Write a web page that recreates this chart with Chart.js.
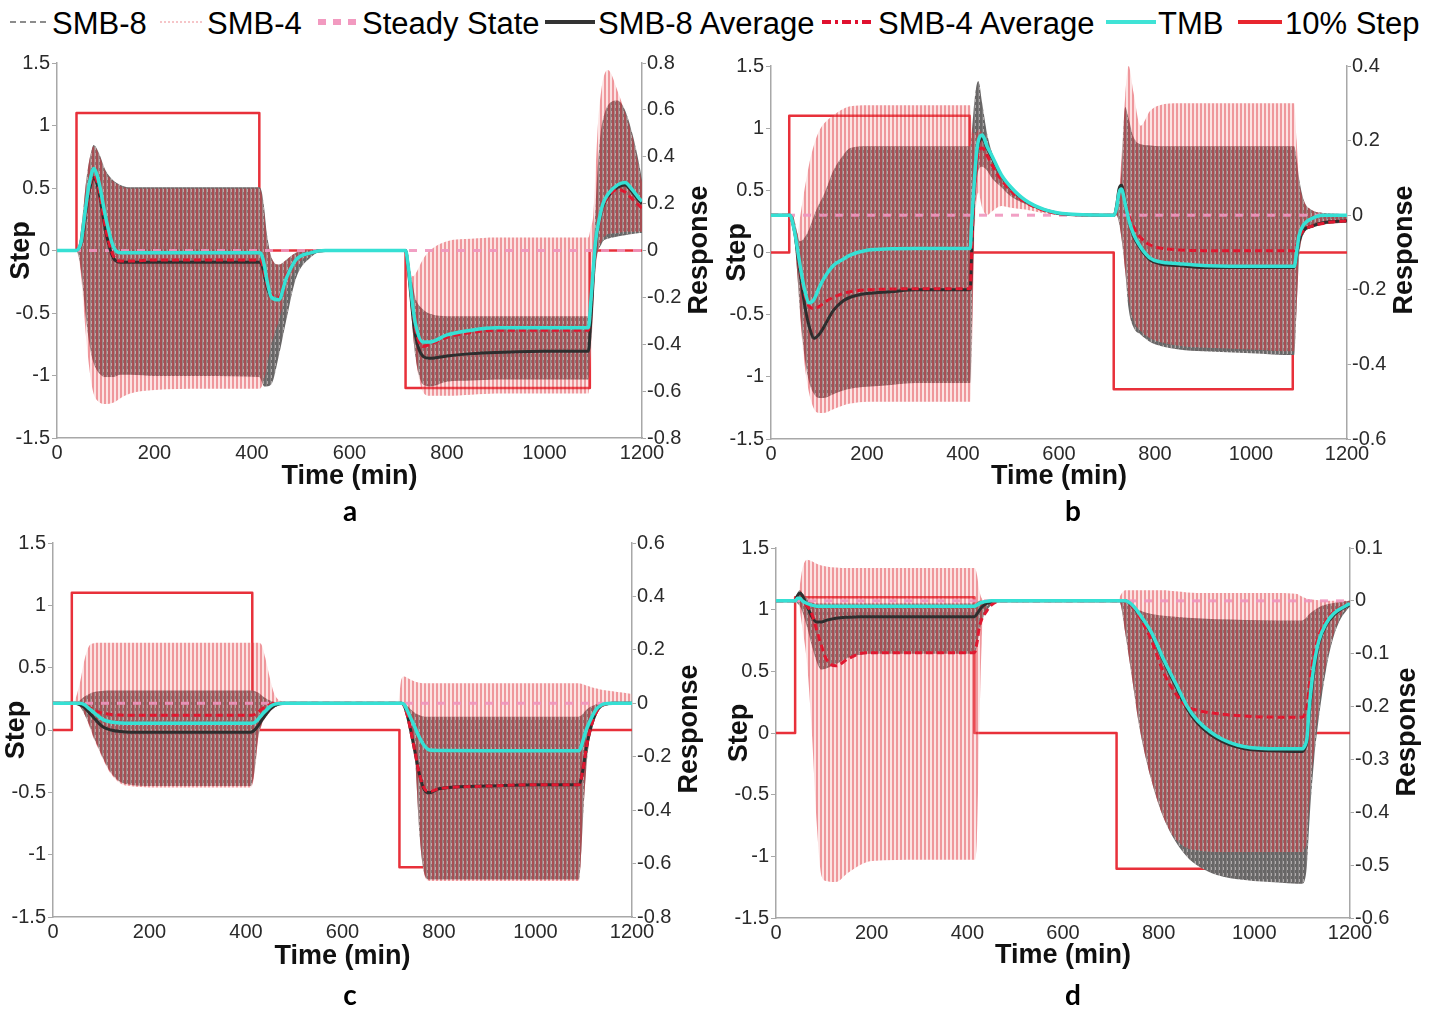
<!DOCTYPE html>
<html><head><meta charset="utf-8">
<script src="https://cdn.jsdelivr.net/npm/chart.js@4.4.0/dist/chart.umd.min.js"></script>
<style>
html,body{margin:0;padding:0;background:#fff;width:1440px;height:1009px;overflow:hidden;font-family:"Liberation Sans",Arial,sans-serif;}
canvas{position:absolute;}
.leg{position:absolute;top:7px;font-size:31px;line-height:33px;color:#000;white-space:nowrap;}
.ico{position:absolute;top:12px;}
.lab{position:absolute;font-family:Lato,"Open Sans",sans-serif;font-weight:700;font-size:28px;line-height:28px;transform:translateX(-50%);color:#000;}
</style></head><body>
<svg class="ico" style="left:10px" width="40" height="20"><line x1="0" y1="10" x2="40" y2="10" stroke="#8c8c8c" stroke-width="2" stroke-dasharray="6,4"/></svg>
<div class="leg" style="left:52px">SMB-8</div>
<svg class="ico" style="left:160px" width="42" height="20"><line x1="0" y1="10" x2="42" y2="10" stroke="#f3b3b6" stroke-width="1.5" stroke-dasharray="2,2"/></svg>
<div class="leg" style="left:207px">SMB-4</div>
<svg class="ico" style="left:316px" width="40" height="20"><line x1="2" y1="10" x2="40" y2="10" stroke="#f29ac0" stroke-width="6" stroke-dasharray="8,7"/></svg>
<div class="leg" style="left:362px">Steady State</div>
<svg class="ico" style="left:545px" width="50" height="20"><line x1="0" y1="10" x2="50" y2="10" stroke="#333" stroke-width="4"/></svg>
<div class="leg" style="left:598px">SMB-8 Average</div>
<svg class="ico" style="left:822px" width="52" height="20"><line x1="0" y1="10" x2="52" y2="10" stroke="#e0102e" stroke-width="4" stroke-dasharray="9,4,3,4"/></svg>
<div class="leg" style="left:878px">SMB-4 Average</div>
<svg class="ico" style="left:1106px" width="50" height="20"><line x1="0" y1="10" x2="50" y2="10" stroke="#3fe3d6" stroke-width="4"/></svg>
<div class="leg" style="left:1158px">TMB</div>
<svg class="ico" style="left:1238px" width="44" height="20"><line x1="0" y1="10" x2="44" y2="10" stroke="#e8262e" stroke-width="4"/></svg>
<div class="leg" style="left:1285px">10% Step</div>

<canvas id="ca" width="720" height="448" style="left:0px;top:45px"></canvas>
<canvas id="cb" width="720" height="448" style="left:720px;top:45px"></canvas>
<canvas id="cc" width="720" height="448" style="left:0px;top:525px"></canvas>
<canvas id="cd" width="720" height="447" style="left:720px;top:525px"></canvas>

<div class="lab" style="left:350px;top:496px">a</div>
<div class="lab" style="left:1073px;top:496px">b</div>
<div class="lab" style="left:350px;top:980px">c</div>
<div class="lab" style="left:1073px;top:980px">d</div>

<script>
// ---------- tick labels ----------
const xTicks = [0,200,400,600,800,1000,1200];
const leftTicks = [-1.5,-1,-0.5,0,0.5,1,1.5];
const rightTicksA = [-0.8,-0.6,-0.4,-0.2,0,0.2,0.4,0.6,0.8];
const rightTicksB = [-0.6,-0.4,-0.2,0,0.2,0.4];
const rightTicksC = [-0.8,-0.6,-0.4,-0.2,0,0.2,0.4,0.6];
const rightTicksD = [-0.6,-0.5,-0.4,-0.3,-0.2,-0.1,0,0.1];

// ---------- common ----------
const steadyT = [0,1200];
const steadyV = [0,0];
const stepV = [0,0,1.1,1.1,0,0,-1.1,-1.1,0,0];

// ---------- panel a ----------
const tA = [0,40,45,50,55,60,65,70,75,85,100,115,130,150,200,300,415,420,425,430,440,455,470,490,520,550,715,720,730,735,750,765,800,850,900,1000,1090,1095,1100,1105,1110,1115,1120,1130,1150,1165,1180,1195,1200];
const tmbA = [0,0,0.01,0.04,0.12,0.2,0.27,0.32,0.35,0.3,0.14,0.02,-0.01,-0.01,-0.01,-0.01,-0.01,-0.02,-0.06,-0.12,-0.2,-0.21,-0.12,-0.04,-0.01,0,0,-0.06,-0.24,-0.31,-0.39,-0.39,-0.36,-0.34,-0.33,-0.33,-0.33,-0.22,-0.08,0.04,0.11,0.16,0.2,0.24,0.28,0.29,0.26,0.22,0.21];
const avg8A = [0,0,0.01,0.03,0.09,0.17,0.24,0.29,0.31,0.26,0.08,-0.03,-0.05,-0.05,-0.05,-0.05,-0.05,-0.06,-0.1,-0.15,-0.2,-0.21,-0.12,-0.04,-0.01,0,0,-0.07,-0.28,-0.36,-0.45,-0.46,-0.45,-0.44,-0.435,-0.43,-0.43,-0.3,-0.12,0.02,0.1,0.15,0.19,0.23,0.27,0.28,0.25,0.21,0.2];
const avg4A = [0,0,0.01,0.03,0.1,0.18,0.25,0.3,0.32,0.27,0.09,-0.02,-0.045,-0.045,-0.04,-0.04,-0.04,-0.05,-0.09,-0.14,-0.19,-0.2,-0.11,-0.04,-0.01,0,0,-0.06,-0.25,-0.33,-0.41,-0.4,-0.37,-0.35,-0.34,-0.34,-0.34,-0.23,-0.09,0.03,0.1,0.15,0.19,0.23,0.26,0.25,0.22,0.19,0.18];
const hi8A = [0,0,0.03,0.1,0.2,0.3,0.37,0.42,0.45,0.42,0.34,0.3,0.28,0.27,0.27,0.27,0.27,0.25,0.18,0.08,-0.03,-0.06,-0.04,-0.01,0,0,0,-0.04,-0.15,-0.2,-0.25,-0.27,-0.28,-0.28,-0.28,-0.28,-0.28,-0.15,0.0,0.2,0.38,0.5,0.56,0.62,0.64,0.6,0.5,0.36,0.3];
const lo8A = [0,0,-0.03,-0.1,-0.2,-0.3,-0.38,-0.44,-0.48,-0.52,-0.54,-0.54,-0.53,-0.53,-0.535,-0.535,-0.54,-0.56,-0.58,-0.58,-0.57,-0.45,-0.3,-0.12,-0.03,0,0,-0.1,-0.35,-0.45,-0.57,-0.58,-0.56,-0.555,-0.55,-0.55,-0.55,-0.4,-0.2,-0.05,0.0,0.02,0.04,0.05,0.06,0.065,0.07,0.075,0.075];
const hi4A = [0,0,0.03,0.1,0.2,0.3,0.37,0.42,0.445,0.415,0.335,0.295,0.275,0.265,0.265,0.265,0.265,0.24,0.16,0.06,-0.03,-0.06,-0.04,-0.01,0,0,0,-0.05,-0.11,-0.1,-0.04,0.0,0.04,0.05,0.055,0.055,0.055,0.1,0.15,0.35,0.55,0.66,0.73,0.77,0.68,0.59,0.49,0.34,0.29];
const lo4A = [0,0,-0.04,-0.12,-0.25,-0.38,-0.48,-0.56,-0.61,-0.645,-0.655,-0.65,-0.63,-0.61,-0.595,-0.59,-0.59,-0.58,-0.55,-0.5,-0.4,-0.3,-0.18,-0.07,-0.02,0,0,-0.1,-0.35,-0.45,-0.6,-0.62,-0.62,-0.615,-0.61,-0.61,-0.61,-0.45,-0.25,-0.08,0.0,0.03,0.05,0.07,0.075,0.08,0.08,0.08,0.08];
const stepTA = [0,40,40,415,415,715,715,1093,1093,1200];

// ---------- panel b ----------
const tB = [0,40,45,50,55,60,70,80,90,100,110,130,150,165,200,250,300,415,418,422,427,432,440,450,460,480,500,530,570,620,715,720,725,730,738,745,755,770,790,810,850,900,1000,1090,1095,1100,1110,1125,1150,1200];
const tmbB = [0,0,-0.02,-0.05,-0.09,-0.13,-0.2,-0.235,-0.225,-0.195,-0.17,-0.135,-0.118,-0.107,-0.094,-0.09,-0.089,-0.089,-0.02,0.06,0.15,0.2,0.215,0.185,0.16,0.108,0.075,0.04,0.015,0.003,0,0.02,0.06,0.07,0.03,-0.01,-0.05,-0.085,-0.115,-0.125,-0.13,-0.135,-0.137,-0.137,-0.1,-0.055,-0.025,-0.01,0,0];
const avg8B = [0,0,-0.02,-0.05,-0.1,-0.15,-0.24,-0.3,-0.33,-0.32,-0.3,-0.255,-0.23,-0.22,-0.21,-0.205,-0.2,-0.2,-0.1,0.04,0.14,0.19,0.205,0.18,0.155,0.105,0.072,0.038,0.014,0.002,0,0.025,0.07,0.08,0.035,-0.01,-0.055,-0.09,-0.12,-0.13,-0.135,-0.14,-0.14,-0.14,-0.11,-0.07,-0.04,-0.03,-0.02,-0.015];
const avg4B = [0,0,-0.02,-0.05,-0.09,-0.14,-0.21,-0.245,-0.25,-0.245,-0.235,-0.22,-0.21,-0.205,-0.2,-0.198,-0.197,-0.197,-0.1,0.03,0.12,0.17,0.18,0.16,0.135,0.095,0.065,0.035,0.012,0.002,0,0.02,0.06,0.07,0.035,0.0,-0.03,-0.06,-0.08,-0.088,-0.093,-0.095,-0.095,-0.095,-0.08,-0.06,-0.04,-0.03,-0.022,-0.015];
const hi8B = [0,0,0,-0.02,-0.05,-0.07,-0.06,-0.035,0.0,0.03,0.055,0.12,0.16,0.18,0.185,0.185,0.185,0.185,0.22,0.28,0.34,0.36,0.3,0.22,0.17,0.11,0.077,0.042,0.016,0.003,0,0.01,0.04,0.12,0.29,0.26,0.21,0.19,0.187,0.185,0.185,0.185,0.185,0.185,0.15,0.1,0.04,0.015,0.006,0.003];
const lo8B = [0,0,-0.02,-0.08,-0.16,-0.25,-0.38,-0.45,-0.48,-0.49,-0.49,-0.48,-0.47,-0.465,-0.46,-0.455,-0.45,-0.45,-0.35,-0.1,0.06,0.12,0.13,0.12,0.1,0.075,0.05,0.03,0.01,0.0,0,0,-0.02,-0.06,-0.15,-0.25,-0.3,-0.32,-0.34,-0.35,-0.36,-0.365,-0.37,-0.375,-0.25,-0.12,-0.05,-0.035,-0.025,-0.02];
const hi4B = [0,0,0,-0.02,-0.05,-0.01,0.07,0.14,0.19,0.225,0.245,0.268,0.285,0.292,0.295,0.295,0.295,0.295,0.25,0.22,0.22,0.23,0.22,0.19,0.16,0.11,0.077,0.042,0.016,0.003,0,0.02,0.06,0.15,0.32,0.4,0.33,0.24,0.28,0.295,0.3,0.3,0.3,0.3,0.2,0.1,0.04,0.015,0.006,0.003];
const lo4B = [0,0,-0.02,-0.08,-0.16,-0.26,-0.4,-0.48,-0.52,-0.53,-0.53,-0.52,-0.51,-0.505,-0.5,-0.5,-0.5,-0.5,-0.4,-0.15,0.02,0.06,0.02,0.0,0.01,0.025,0.02,0.015,0.005,0,0,0,-0.02,-0.06,-0.15,-0.22,-0.28,-0.31,-0.33,-0.34,-0.35,-0.355,-0.36,-0.365,-0.25,-0.12,-0.05,-0.035,-0.025,-0.02];
const stepTB = [0,38,38,414,414,714,714,1087,1087,1200];

// ---------- panel c ----------
const tC = [0,40,45,55,65,75,85,95,105,120,140,160,200,300,410,418,425,432,440,450,460,480,500,715,722,728,735,740,750,760,770,780,800,900,1000,1090,1095,1100,1105,1112,1120,1127,1135,1144,1160,1180,1200];
const tmbC = [0,0,0,0,-0.005,-0.02,-0.035,-0.05,-0.062,-0.07,-0.074,-0.075,-0.075,-0.075,-0.075,-0.072,-0.06,-0.045,-0.03,-0.012,-0.003,0,0,0,0,-0.005,-0.03,-0.05,-0.09,-0.13,-0.16,-0.175,-0.177,-0.178,-0.178,-0.178,-0.16,-0.13,-0.1,-0.07,-0.04,-0.02,-0.008,-0.002,0,0,0];
const avg8C = [0,0,0,-0.005,-0.015,-0.035,-0.055,-0.075,-0.09,-0.1,-0.106,-0.108,-0.108,-0.108,-0.108,-0.1,-0.085,-0.065,-0.045,-0.022,-0.008,0,0,0,0,-0.01,-0.05,-0.09,-0.18,-0.27,-0.325,-0.335,-0.32,-0.31,-0.305,-0.305,-0.28,-0.23,-0.17,-0.11,-0.06,-0.03,-0.012,-0.004,0,0,0];
const avg4C = [0,0,0,0,-0.005,-0.015,-0.025,-0.033,-0.038,-0.042,-0.044,-0.045,-0.045,-0.045,-0.045,-0.042,-0.033,-0.023,-0.013,-0.005,0,0,0,0,0,-0.01,-0.05,-0.09,-0.18,-0.27,-0.32,-0.33,-0.32,-0.31,-0.305,-0.305,-0.28,-0.23,-0.17,-0.11,-0.06,-0.03,-0.012,-0.004,0,0,0];
const hi8C = [0,0,0,0.01,0.025,0.035,0.042,0.045,0.047,0.048,0.048,0.048,0.048,0.048,0.048,0.046,0.04,0.03,0.02,0.01,0.004,0,0,0,0,-0.003,-0.01,-0.02,-0.035,-0.045,-0.05,-0.05,-0.05,-0.05,-0.05,-0.05,-0.045,-0.035,-0.025,-0.015,-0.008,-0.004,-0.002,0,0,0,0];
const lo8C = [0,0,0,-0.01,-0.04,-0.08,-0.13,-0.17,-0.21,-0.26,-0.295,-0.305,-0.31,-0.31,-0.31,-0.25,-0.13,-0.08,-0.05,-0.03,-0.015,-0.003,0,0,0,-0.01,-0.04,-0.08,-0.2,-0.5,-0.64,-0.66,-0.66,-0.66,-0.66,-0.66,-0.55,-0.38,-0.25,-0.13,-0.06,-0.03,-0.012,-0.004,0,0,0];
const hi4C = [0,0,0.01,0.07,0.16,0.215,0.225,0.227,0.227,0.227,0.227,0.227,0.227,0.227,0.227,0.227,0.227,0.22,0.17,0.09,0.03,0.005,0,0,0.09,0.1,0.095,0.09,0.082,0.077,0.075,0.075,0.075,0.075,0.075,0.075,0.073,0.07,0.067,0.063,0.058,0.055,0.052,0.049,0.045,0.04,0.035];
const lo4C = [0,0,0,-0.01,-0.04,-0.085,-0.135,-0.175,-0.215,-0.265,-0.3,-0.31,-0.315,-0.315,-0.315,-0.26,-0.14,-0.085,-0.055,-0.03,-0.015,-0.003,0,0,0,-0.01,-0.04,-0.08,-0.2,-0.5,-0.645,-0.665,-0.665,-0.665,-0.665,-0.665,-0.55,-0.38,-0.25,-0.13,-0.06,-0.025,-0.008,0,0,0,0];
const stepTC = [0,39,39,413,413,718,718,1090,1090,1200];

// ---------- panel d ----------
const tD = [0,40,45,50,55,65,75,85,95,105,125,150,175,200,300,415,420,425,430,440,450,470,715,720,730,745,760,785,810,835,860,880,920,980,1050,1090,1095,1100,1105,1110,1115,1125,1135,1150,1165,1180,1200];
const tmbD = [0,0,0.005,0.005,0,-0.005,-0.008,-0.01,-0.01,-0.01,-0.01,-0.01,-0.01,-0.01,-0.01,-0.01,-0.008,-0.005,-0.003,-0.001,0,0,0,0,0,-0.008,-0.025,-0.06,-0.11,-0.155,-0.2,-0.225,-0.255,-0.276,-0.28,-0.28,-0.28,-0.28,-0.275,-0.26,-0.2,-0.12,-0.075,-0.043,-0.025,-0.015,-0.005];
const avg8D = [0,0,0.01,0.015,0.01,-0.01,-0.03,-0.04,-0.04,-0.037,-0.033,-0.031,-0.03,-0.03,-0.03,-0.03,-0.025,-0.018,-0.012,-0.005,-0.002,0,0,0,0,-0.01,-0.027,-0.063,-0.113,-0.16,-0.205,-0.23,-0.26,-0.28,-0.284,-0.285,-0.285,-0.285,-0.28,-0.265,-0.21,-0.13,-0.08,-0.046,-0.028,-0.017,-0.007];
const avg4D = [0,0,0.005,0.005,0,-0.01,-0.025,-0.055,-0.085,-0.11,-0.123,-0.11,-0.1,-0.098,-0.098,-0.098,-0.08,-0.05,-0.035,-0.02,-0.008,0,0,0,0,-0.01,-0.03,-0.075,-0.135,-0.175,-0.2,-0.207,-0.213,-0.218,-0.22,-0.22,-0.22,-0.22,-0.215,-0.2,-0.16,-0.1,-0.065,-0.038,-0.022,-0.013,-0.005];
const hi8D = [0,0,0.015,0.02,0.015,0.005,-0.003,-0.005,-0.005,-0.005,-0.005,-0.005,-0.005,-0.005,-0.005,-0.005,-0.003,0,0,0,0,0,0,0,-0.003,-0.01,-0.018,-0.025,-0.028,-0.03,-0.032,-0.033,-0.035,-0.036,-0.037,-0.037,-0.037,-0.037,-0.035,-0.03,-0.025,-0.018,-0.012,-0.007,-0.004,-0.002,0];
const lo8D = [0,0,-0.005,-0.01,-0.02,-0.05,-0.085,-0.115,-0.13,-0.128,-0.12,-0.108,-0.102,-0.1,-0.1,-0.1,-0.085,-0.06,-0.04,-0.02,-0.008,0,0,-0.005,-0.06,-0.15,-0.24,-0.34,-0.41,-0.455,-0.485,-0.5,-0.518,-0.528,-0.533,-0.535,-0.535,-0.535,-0.53,-0.5,-0.42,-0.3,-0.22,-0.13,-0.07,-0.035,-0.01];
const hi4D = [0,0,0,0.03,0.06,0.078,0.075,0.07,0.067,0.065,0.063,0.062,0.062,0.062,0.062,0.062,0.05,0.02,0.005,0,0,0,0,0.01,0.02,0.02,0.02,0.02,0.02,0.018,0.016,0.015,0.015,0.015,0.015,0.013,0.01,0.008,0.006,0.004,0.003,0.002,0.001,0,0,0,0];
const lo4D = [0,0,0,-0.02,-0.05,-0.12,-0.25,-0.42,-0.52,-0.53,-0.532,-0.515,-0.5,-0.492,-0.49,-0.49,-0.45,-0.25,-0.08,-0.01,0,0,0,-0.005,-0.06,-0.15,-0.24,-0.34,-0.41,-0.45,-0.468,-0.472,-0.475,-0.475,-0.475,-0.475,-0.475,-0.475,-0.47,-0.45,-0.38,-0.28,-0.2,-0.12,-0.065,-0.03,-0.008];
const stepTD = [0,40,40,415,415,712,712,1100,1100,1200];

// ---------- fill patterns (style) ----------
function tile(draw){const c=document.createElement('canvas');c.width=4;c.height=6;const g=c.getContext('2d');draw(g);return g.createPattern(c,'repeat');}
const grayPat = tile(g=>{g.fillStyle='rgb(104,102,102)';g.fillRect(0,0,4,6);g.fillStyle='rgb(128,126,126)';g.fillRect(2,0,1,6);g.fillStyle='rgb(176,172,172)';g.fillRect(3,0,1,3);});
const pinkPat = tile(g=>{g.fillStyle='rgba(245,150,150,0.27)';g.fillRect(2,0,2,6);g.fillStyle='rgba(225,55,65,0.52)';g.fillRect(0,0,2,6);});

function pts(t,v){return t.map((x,i)=>({x:x,y:v[i]}));}
function fmt(v){return String(+(+v).toFixed(2));}

const respPlugin = {
  id:'resp',
  afterDraw(chart, args, o){
    const c = chart.ctx; c.save();
    c.translate(o.x, o.y); c.rotate(-Math.PI/2);
    c.font = 'bold 27px "Liberation Sans", Arial, sans-serif';
    c.fillStyle = '#111'; c.textAlign = 'center'; c.textBaseline = 'middle';
    c.fillText('Response', 0, 0); c.restore();
  }
};

const panels = [
  {id:'ca', padTop:18, lw:57, rw:78, xh:55, stepPad:5.8, resp:[700,205], rmin:-0.8, rmax:0.8, rticks:rightTicksA,
   t:tA, tmb:tmbA, avg8:avg8A, avg4:avg4A, hi8:hi8A, lo8:lo8A, hi4:hi4A, lo4:lo4A, stepT:stepTA},
  {id:'cb', padTop:21, lw:51, rw:93, xh:54, stepPad:1.8, resp:[685,205], rmin:-0.6, rmax:0.4, rticks:rightTicksB,
   t:tB, tmb:tmbB, avg8:avg8B, avg4:avg4B, hi8:hi8B, lo8:lo8B, hi4:hi4B, lo4:lo4B, stepT:stepTB},
  {id:'cc', padTop:18, lw:53, rw:88, xh:56, stepPad:0.8, resp:[690,204], rmin:-0.8, rmax:0.6, rticks:rightTicksC,
   t:tC, tmb:tmbC, avg8:avg8C, avg4:avg4C, hi8:hi8C, lo8:lo8C, hi4:hi4C, lo4:lo4C, stepT:stepTC},
  {id:'cd', padTop:23, lw:56, rw:90, xh:54, stepPad:3.8, resp:[688,207], rmin:-0.6, rmax:0.1, rticks:rightTicksD,
   t:tD, tmb:tmbD, avg8:avg8D, avg4:avg4D, hi8:hi8D, lo8:lo8D, hi4:hi4D, lo4:lo4D, stepT:stepTD}
];

const tickFont = {family:'"Liberation Sans", Arial, sans-serif', size:20};
const titleFont = {family:'"Liberation Sans", Arial, sans-serif', size:27, weight:'bold'};
const axisCol = '#a8a8a8';
const smooth = {cubicInterpolationMode:'monotone'};
const none = 'rgba(0,0,0,0)';

panels.forEach(p=>{
  new Chart(document.getElementById(p.id), {
    type:'line',
    data:{datasets:[
      Object.assign({label:'TMB', data:pts(p.t,p.tmb), yAxisID:'y2', borderColor:'#36e0d4', borderWidth:3.5, order:0}, smooth),
      Object.assign({label:'SMB-4 Average', data:pts(p.t,p.avg4), yAxisID:'y2', borderColor:'#e01830', borderWidth:3, borderDash:[7,4], order:1}, smooth),
      Object.assign({label:'SMB-8 Average', data:pts(p.t,p.avg8), yAxisID:'y2', borderColor:'#2e2e2e', borderWidth:3, order:2}, smooth),
      {label:'Steady State', data:pts(steadyT,steadyV), yAxisID:'y2', borderColor:'rgba(240,150,190,0.9)', borderWidth:3, borderDash:[8,8], order:3},
      Object.assign({label:'SMB-4', data:pts(p.t,p.hi4), yAxisID:'y2', borderColor:none, borderWidth:0, backgroundColor:pinkPat, fill:{target:5}, order:4}, smooth),
      Object.assign({label:'SMB-4 low', data:pts(p.t,p.lo4), yAxisID:'y2', borderColor:none, borderWidth:0, order:5}, smooth),
      Object.assign({label:'SMB-8', data:pts(p.t,p.hi8), yAxisID:'y2', borderColor:none, borderWidth:0, backgroundColor:grayPat, fill:{target:7}, order:6}, smooth),
      Object.assign({label:'SMB-8 low', data:pts(p.t,p.lo8), yAxisID:'y2', borderColor:none, borderWidth:0, order:7}, smooth),
      {label:'10% Step', data:pts(p.stepT,stepV), yAxisID:'y', borderColor:'#e8303a', borderWidth:2.5, order:8, tension:0}
    ]},
    options:{
      responsive:false, animation:false, devicePixelRatio:1,
      layout:{padding:{top:p.padTop, left:0, right:0, bottom:0}},
      elements:{point:{radius:0, hoverRadius:0}, line:{borderJoinStyle:'round'}},
      plugins:{legend:{display:false}, tooltip:{enabled:false}, resp:{x:p.resp[0], y:p.resp[1]}},
      events:[],
      scales:{
        x:{type:'linear', min:0, max:1200,
           afterFit:s=>{s.height=p.xh;},
           afterBuildTicks:s=>{s.ticks=xTicks.map(v=>({value:v}));},
           ticks:{font:tickFont, color:'#2a2a2a', padding:3, maxRotation:0, autoSkip:false, callback:fmt},
           grid:{drawOnChartArea:false, drawTicks:false},
           border:{color:axisCol, width:1.5},
           title:{display:true, text:'Time (min)', font:titleFont, color:'#111', padding:0}},
        y:{type:'linear', position:'left', min:-1.5, max:1.5,
           afterFit:s=>{s.width=p.lw;},
           afterBuildTicks:s=>{s.ticks=leftTicks.map(v=>({value:v}));},
           ticks:{font:tickFont, color:'#2a2a2a', padding:2, autoSkip:false, callback:fmt},
           grid:{drawOnChartArea:false, drawTicks:true, tickLength:5, color:axisCol},
           border:{color:axisCol, width:1.5},
           title:{display:true, text:'Step', font:titleFont, color:'#111', padding:{top:p.stepPad, bottom:0}}},
        y2:{type:'linear', position:'right', min:p.rmin, max:p.rmax,
           afterFit:s=>{s.width=p.rw;},
           afterBuildTicks:s=>{s.ticks=p.rticks.map(v=>({value:v}));},
           ticks:{font:tickFont, color:'#2a2a2a', padding:1, autoSkip:false, callback:fmt},
           grid:{drawOnChartArea:false, drawTicks:true, tickLength:4, color:axisCol},
           border:{color:axisCol, width:1.5}}
      }
    },
    plugins:[respPlugin]
  });
});
</script>
</body></html>
